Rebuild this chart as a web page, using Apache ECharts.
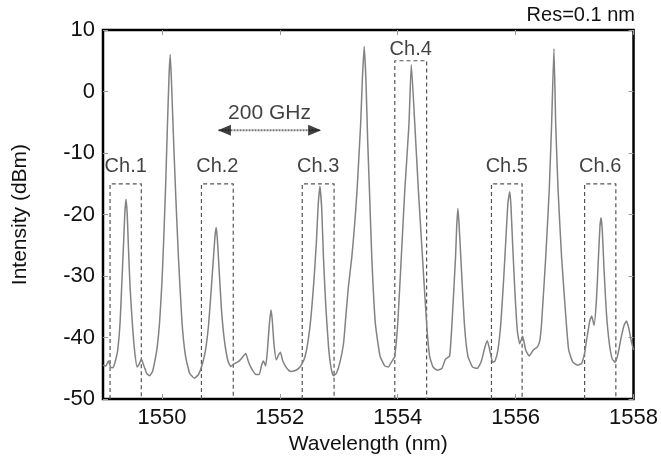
<!DOCTYPE html>
<html>
<head>
<meta charset="utf-8">
<script src="https://cdn.jsdelivr.net/npm/echarts@6/dist/echarts.min.js"></script>
<style>
  html, body { margin: 0; padding: 0; background: #fff; }
  #chart { width: 661px; height: 460px; }
</style>
</head>
<body>
<div id="chart"></div>
<script>
// spectrum trace: [wavelength nm, intensity dBm]
const tracePoints = [
  [1549.00, -44.5], [1549.05, -44.6], [1549.09, -43.8], [1549.13, -44.8], [1549.17, -44.9],
  [1549.21, -43.8], [1549.25, -42.0], [1549.29, -37.5], [1549.32, -31.0], [1549.35, -24.5],
  [1549.37, -19.8], [1549.39, -17.5], [1549.41, -19.8], [1549.43, -25.0], [1549.46, -32.0],
  [1549.50, -38.0], [1549.54, -42.5], [1549.58, -44.8], [1549.62, -44.2], [1549.65, -43.5],
  [1549.69, -44.5], [1549.74, -45.8], [1549.79, -46.2], [1549.84, -45.5], [1549.88, -43.8],
  [1549.92, -41.5], [1549.96, -37.5], [1550.00, -31.0], [1550.03, -24.0], [1550.06, -16.0],
  [1550.09, -6.5], [1550.12, 2.5], [1550.14, 6.0], [1550.16, 2.0], [1550.19, -6.0],
  [1550.23, -16.0], [1550.28, -27.0], [1550.34, -37.5], [1550.40, -43.0], [1550.47, -45.8],
  [1550.55, -46.6], [1550.62, -46.0], [1550.68, -44.5], [1550.74, -42.0], [1550.79, -38.0],
  [1550.83, -33.0], [1550.87, -27.5], [1550.90, -23.5], [1550.92, -22.1], [1550.94, -24.0],
  [1550.97, -29.0], [1551.01, -35.5], [1551.06, -40.5], [1551.12, -43.8], [1551.17, -44.7],
  [1551.22, -44.3], [1551.28, -44.0], [1551.34, -43.5], [1551.42, -42.6], [1551.47, -44.0],
  [1551.53, -45.2], [1551.60, -46.0], [1551.65, -46.0], [1551.69, -44.5], [1551.72, -43.8],
  [1551.76, -44.6], [1551.79, -42.0], [1551.82, -38.0], [1551.85, -35.5], [1551.87, -37.0],
  [1551.90, -41.0], [1551.94, -43.6], [1551.98, -42.8], [1552.01, -42.4], [1552.05, -43.8],
  [1552.12, -45.0], [1552.18, -45.5], [1552.25, -45.4], [1552.32, -45.0], [1552.38, -44.2],
  [1552.43, -43.0], [1552.48, -40.5], [1552.53, -36.5], [1552.58, -30.5], [1552.62, -24.5],
  [1552.65, -18.5], [1552.68, -15.4], [1552.71, -19.0], [1552.74, -27.0], [1552.78, -35.0],
  [1552.83, -42.0], [1552.87, -45.0], [1552.91, -46.2], [1552.96, -45.8], [1553.02, -44.0],
  [1553.08, -41.0], [1553.11, -37.7], [1553.16, -32.0], [1553.22, -27.0], [1553.27, -21.5],
  [1553.31, -16.0], [1553.37, -5.4], [1553.40, 2.0], [1553.43, 7.3], [1553.46, 2.0],
  [1553.49, -8.0], [1553.52, -16.0], [1553.56, -27.0], [1553.62, -37.7], [1553.70, -43.0],
  [1553.78, -44.6], [1553.84, -44.8], [1553.88, -44.2], [1553.92, -43.6], [1553.95, -43.0],
  [1554.00, -37.7], [1554.06, -27.0], [1554.12, -16.0], [1554.19, -5.4], [1554.23, 4.4],
  [1554.29, -5.4], [1554.35, -16.0], [1554.42, -27.0], [1554.49, -37.7], [1554.54, -43.0],
  [1554.60, -44.8], [1554.67, -45.3], [1554.75, -45.0], [1554.81, -43.5], [1554.88, -43.0],
  [1554.92, -37.7], [1554.98, -27.0], [1555.00, -22.0], [1555.02, -19.0], [1555.04, -21.5],
  [1555.07, -27.0], [1555.13, -37.7], [1555.19, -43.0], [1555.27, -44.8], [1555.35, -45.0],
  [1555.42, -43.8], [1555.48, -41.5], [1555.52, -40.5], [1555.56, -42.0], [1555.61, -44.0],
  [1555.65, -43.8], [1555.70, -42.0], [1555.75, -37.5], [1555.80, -30.0], [1555.84, -23.0],
  [1555.87, -18.0], [1555.90, -16.3], [1555.92, -18.5], [1555.95, -25.0], [1555.99, -33.0],
  [1556.03, -39.0], [1556.07, -41.0], [1556.12, -39.8], [1556.17, -42.0], [1556.23, -43.0],
  [1556.30, -42.0], [1556.37, -41.5], [1556.41, -40.5], [1556.44, -37.7], [1556.51, -27.0],
  [1556.57, -16.0], [1556.61, -5.4], [1556.65, 7.0], [1556.68, -5.4], [1556.72, -16.0],
  [1556.78, -27.0], [1556.86, -37.7], [1556.90, -42.0], [1556.97, -44.0], [1557.05, -44.5],
  [1557.12, -44.2], [1557.17, -42.5], [1557.21, -40.0], [1557.26, -37.2], [1557.29, -36.5],
  [1557.33, -38.0], [1557.37, -34.0], [1557.40, -28.0], [1557.43, -22.0], [1557.45, -20.5],
  [1557.47, -22.5], [1557.50, -29.0], [1557.54, -36.0], [1557.59, -41.0], [1557.64, -43.5],
  [1557.69, -44.0], [1557.74, -42.5], [1557.79, -40.0], [1557.84, -38.0], [1557.88, -37.3],
  [1557.92, -38.5], [1557.96, -40.5], [1558.00, -42.0]
]

// channel windows (dashed boxes)
const channelNames = ["Ch.1", "Ch.2", "Ch.3", "Ch.4", "Ch.5", "Ch.6"]
const boxLeft = [1549.12, 1550.67, 1552.38, 1553.95, 1555.59, 1557.17]
const boxRight = [1549.65, 1551.21, 1552.92, 1554.49, 1556.11, 1557.70]
const boxTop = [-15, -15, -15, 5, -15, -15]

// 200 GHz spacing arrow
const arrowFrom = 1550.96
const arrowTo = 1552.69
const arrowLevel = -6.3
const spacingLabel = "200 GHz"

const xTicks = [1550, 1552, 1554, 1556, 1558]
const yMin = -50
const yMax = 10

const font = "Liberation Sans, Arial, Helvetica, sans-serif"
const chart = echarts.init(document.getElementById("chart"), null, { renderer: "canvas" })

const boxSeries = boxLeft.map((left, i) => ({
  type: "line",
  silent: true,
  showSymbol: false,
  z: 2,
  data: [[left, yMin], [left, boxTop[i]], [boxRight[i], boxTop[i]], [boxRight[i], yMin]],
  lineStyle: { color: "#555", width: 1.2, type: [4, 3] }
}))

const axisTick = { show: true, inside: true, length: 5, lineStyle: { color: "#999", width: 1 } }
const hiddenLine = { show: false, onZero: false }

chart.setOption({
  animation: false,
  textStyle: { fontFamily: font },
  grid: {
    left: 103,
    right: 21,
    top: 30,
    bottom: 60,
    show: true,
    borderColor: "#000",
    borderWidth: 2.5
  },
  graphic: [
    {
      type: "text",
      right: 26,
      top: 5,
      style: { text: "Res=0.1 nm", font: `20px ${font}`, fill: "#111" }
    }
  ],
  xAxis: [
    {
      type: "value",
      min: 1549,
      max: 1558,
      name: "Wavelength (nm)",
      nameLocation: "middle",
      nameGap: 30,
      nameTextStyle: { fontSize: 21, color: "#111", fontFamily: font },
      axisLine: hiddenLine,
      axisTick: { ...axisTick, customValues: xTicks },
      splitLine: { show: false },
      axisLabel: {
        customValues: xTicks,
        formatter: (v) => String(v),
        fontSize: 22,
        color: "#111",
        margin: 8,
        fontFamily: font
      }
    },
    {
      type: "value",
      position: "top",
      min: 1549,
      max: 1558,
      axisLine: hiddenLine,
      axisTick: { ...axisTick, customValues: xTicks },
      splitLine: { show: false },
      axisLabel: { show: false }
    }
  ],
  yAxis: [
    {
      type: "value",
      min: yMin,
      max: yMax,
      interval: 10,
      name: "Intensity (dBm)",
      nameLocation: "middle",
      nameGap: 72,
      nameTextStyle: { fontSize: 21, color: "#111", fontFamily: font },
      axisLine: hiddenLine,
      axisTick: axisTick,
      splitLine: { show: false },
      axisLabel: { fontSize: 22, color: "#111", margin: 8, fontFamily: font }
    },
    {
      type: "value",
      position: "right",
      min: yMin,
      max: yMax,
      interval: 10,
      axisLine: hiddenLine,
      axisTick: axisTick,
      splitLine: { show: false },
      axisLabel: { show: false }
    }
  ],
  series: [
    {
      type: "line",
      data: tracePoints,
      showSymbol: false,
      smooth: 0.15,
      z: 3,
      lineStyle: { color: "#828282", width: 1.5 }
    },
    ...boxSeries,
    {
      type: "scatter",
      silent: true,
      symbolSize: 1,
      itemStyle: { color: "rgba(0,0,0,0)" },
      z: 4,
      data: channelNames.map((name, i) => ({
        value: [(boxLeft[i] + boxRight[i]) / 2, boxTop[i]],
        name: name,
        label: { distance: boxTop[i] > 0 ? 1 : 7 }
      })),
      label: {
        show: true,
        position: "top",
        formatter: (p) => p.name,
        fontSize: 20,
        color: "#111",
        fontFamily: font
      }
    },
    {
      type: "line",
      silent: true,
      showSymbol: false,
      z: 4,
      data: [[arrowFrom, arrowLevel], [arrowTo, arrowLevel]],
      lineStyle: { color: "#777", width: 2, type: [2, 1] }
    },
    {
      type: "scatter",
      silent: true,
      symbol: "triangle",
      symbolSize: [11, 13],
      z: 5,
      itemStyle: { color: "#111" },
      data: [
        { value: [arrowFrom + 0.1, arrowLevel], symbolRotate: 90 },
        { value: [arrowTo - 0.1, arrowLevel], symbolRotate: -90 }
      ]
    },
    {
      type: "scatter",
      silent: true,
      symbolSize: 1,
      itemStyle: { color: "rgba(0,0,0,0)" },
      z: 5,
      data: [{ value: [(arrowFrom + arrowTo) / 2, arrowLevel], name: spacingLabel }],
      label: {
        show: true,
        position: "top",
        distance: 6,
        formatter: (p) => p.name,
        fontSize: 21,
        color: "#111",
        fontFamily: font
      }
    }
  ]
})
</script>
</body>
</html>
